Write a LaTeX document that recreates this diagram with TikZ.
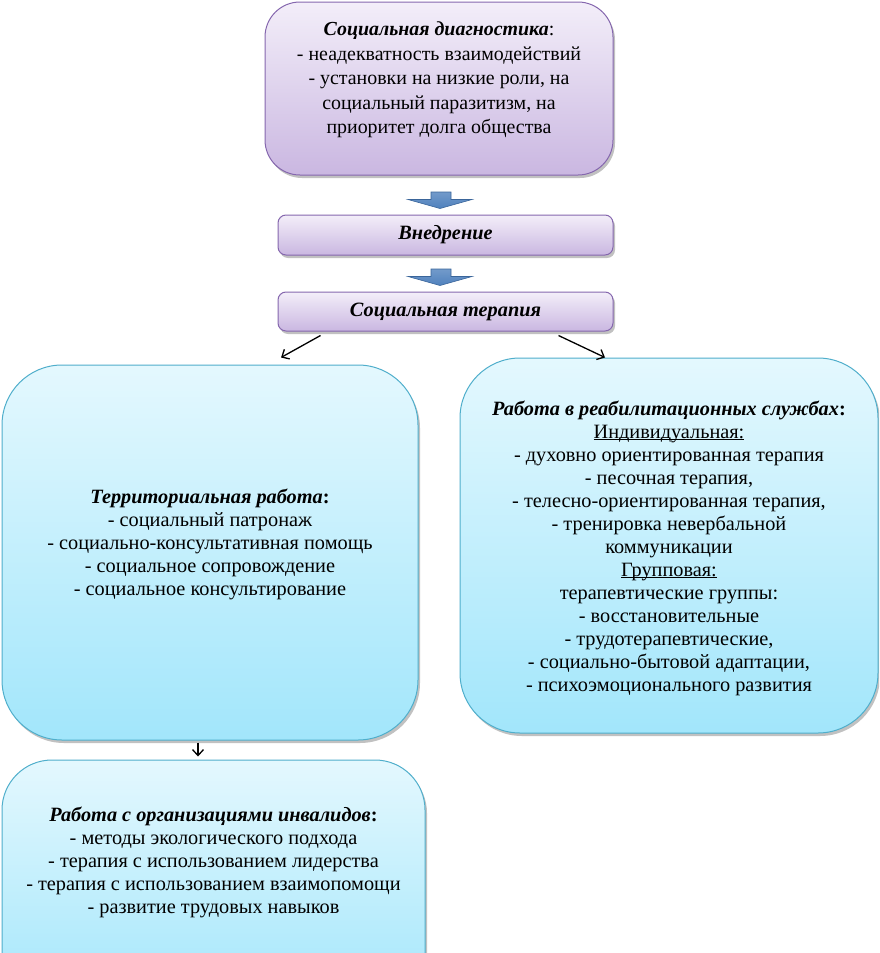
\documentclass[tikz,border=0pt]{standalone}
\usepackage{fontspec}
\setmainfont{Liberation Serif}
\usetikzlibrary{shadows,calc,arrows.meta}
\definecolor{pTop}{HTML}{F3EEF9}
\definecolor{pBot}{HTML}{CAB7E1}
\definecolor{pLine}{HTML}{8567AE}
\definecolor{bTop}{HTML}{E4F8FE}
\definecolor{bBot}{HTML}{A2E6FB}
\definecolor{bLine}{HTML}{4FAECB}
\definecolor{aFill}{HTML}{4F81BD}
\definecolor{aLine}{HTML}{3A659A}
\begin{document}
\begin{tikzpicture}[x=1pt,y=-1pt,
  shad/.style={drop shadow={shadow xshift=2pt,shadow yshift=-3pt,opacity=0.35,fill=black!70}},
  pbox/.style={shape=rectangle,draw=pLine,line width=1pt,top color=pTop,bottom color=pBot,rounded corners=#1,inner sep=0pt,shad},
  bbox/.style={shape=rectangle,draw=bLine,line width=1pt,top color=bTop,bottom color=bBot,rounded corners=#1,inner sep=0pt,shad},
  txt/.style={align=center,inner sep=0pt,font=\fontsize{20.3}{23}\selectfont},
  barrow/.style={draw=aLine,line width=0.6pt,top color=aFill!80,bottom color=aFill},
  conn/.style={draw=black,line width=1.3pt,-{Straight Barb[length=6pt,width=11pt,line width=1.3pt]}}
]
\useasboundingbox (0,0) rectangle (879,953);
\clip (0,0) rectangle (879,953);

% boxes
\node[pbox=35,minimum width=348pt,minimum height=173pt] (diag) at (439,88.5) {};
\node[pbox=8,minimum width=335pt,minimum height=40pt] (vn) at (445.5,235) {};
\node[pbox=8,minimum width=335pt,minimum height=39pt] (st) at (445.5,311.5) {};
\node[bbox=60,minimum width=416pt,minimum height=375pt] (terr) at (210,552.5) {};
\node[bbox=60,minimum width=418pt,minimum height=375pt] (reab) at (669,545.5) {};
\node[bbox=50,minimum width=423pt,minimum height=250pt] (org) at (213.5,885) {};

% texts
\node[txt,font=\fontsize{19.9}{24.5}\selectfont] (diagt) at (439,80)
  {\textbf{\textit{Социальная диагностика}}:\\
   - неадекватность взаимодействий\\
   - установки на низкие роли, на\\
   социальный паразитизм, на\\
   приоритет долга общества};
\node[txt] (vnt) at (vn.center) {\textbf{\textit{Внедрение}}};
\node[txt] (stt) at (st.center) {\textbf{\textit{Социальная терапия}}};
\node[txt] (terrt) at (210,544)
  {\textbf{\textit{Территориальная работа}:}\\
   - социальный патронаж\\
   - социально-консультативная помощь\\
   - социальное сопровождение\\
   - социальное консультирование};
\node[txt] (reabt) at (669,548)
  {\textbf{\textit{Работа в реабилитационных службах}:}\\
   \underline{\smash{Индивидуальная:}}\\
   - духовно ориентированная терапия\\
   - песочная терапия,\\
   - телесно-ориентированная терапия,\\
   - тренировка невербальной\\
   коммуникации\\
   \underline{\smash{Групповая:}}\\
   терапевтические группы:\\
   - восстановительные\\
   - трудотерапевтические,\\
   - социально-бытовой адаптации,\\
   - психоэмоционального развития};
\node[txt] (orgt) at (213.5,862)
  {\textbf{\textit{Работа с организациями инвалидов}:}\\
   - методы экологического подхода\\
   - терапия с использованием лидерства\\
   - терапия с использованием взаимопомощи\\
   - развитие трудовых навыков};

% block arrows
\draw[barrow] (431,192) -- (451,192) -- (451,199.5) -- (472,199.5) -- (440,208.5) -- (408,199.5) -- (431,199.5) -- cycle;
\draw[barrow] (431,269) -- (451,269) -- (451,276.5) -- (472,276.5) -- (440,285.5) -- (408,276.5) -- (431,276.5) -- cycle;

% connectors
\coordinate (c1) at ($(st.south west)+(43,4)$);
\coordinate (c2) at ($(st.south east)+(-55,4)$);
\coordinate (c3) at ($(terr.south)+(-12,2)$);
\draw[conn] (c1) -- ($(terr.north)+(71,-7)$);
\draw[conn] (c2) -- ($(reab.north)+(-64,0)$);
\draw[conn] (c3) -- ($(org.north)+(-15.5,-3)$);
\end{tikzpicture}
\end{document}
